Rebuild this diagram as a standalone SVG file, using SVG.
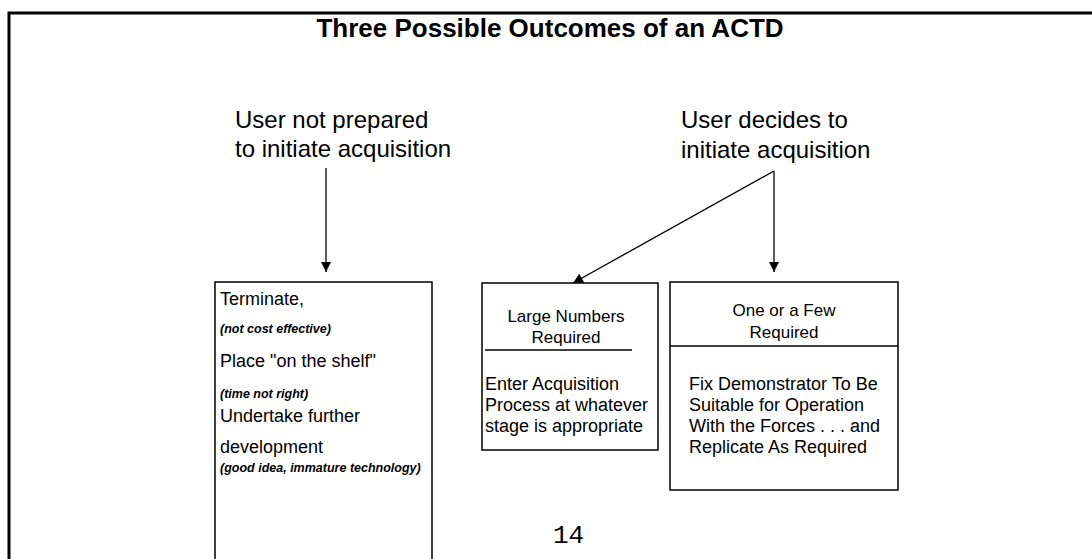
<svg xmlns="http://www.w3.org/2000/svg" width="1092" height="559" viewBox="0 0 1092 559">
<defs>
<style>
text{font-family:"Liberation Sans",Arial,sans-serif;fill:#000}
.title{font-size:26px;font-weight:bold}
.lbl{font-size:24px}
.body{font-size:18px}
.hdr{font-size:17px}
.note{font-size:12.5px;font-weight:bold;font-style:italic}
.box{fill:#fff;stroke:#000;stroke-width:1.5}
.ln{stroke:#000;stroke-width:1.3;fill:none}
.pg{font-family:"Liberation Mono","Courier New",monospace;font-size:26px}
</style>
<marker id="ahv" viewBox="0 0 10 10" refX="10" refY="5" markerWidth="18" markerHeight="10" markerUnits="userSpaceOnUse" orient="auto"><path d="M0,0 L10,5 L0,10 z" fill="#000"/></marker>
</defs>
<rect width="1092" height="559" fill="#fff"/>
<g id="frame">
<path d="M9,559 V13 H1092" fill="none" stroke="#000" stroke-width="3"/>
</g>
<g id="title"><text class="title" x="550" y="37" text-anchor="middle">Three Possible Outcomes of an ACTD</text></g>
<g id="label-not-prepared">
<text class="lbl" x="235" y="128">User not prepared</text>
<text class="lbl" x="235" y="157">to initiate acquisition</text>
</g>
<g id="label-decides">
<text class="lbl" x="681" y="128">User decides to</text>
<text class="lbl" x="681" y="158">initiate acquisition</text>
</g>
<g id="connectors">
<line class="ln" x1="326" y1="168" x2="326" y2="272" marker-end="url(#ahv)"/>
<line class="ln" x1="774" y1="171" x2="774" y2="272" marker-end="url(#ahv)"/>
<line class="ln" x1="774" y1="171" x2="573" y2="283" marker-end="url(#ahv)"/>
</g>
<g id="box-left">
<path class="box" d="M215,560 V282 H432 V560"/>
<text class="body" x="220" y="305">Terminate,</text>
<text class="note" x="220" y="333">(not cost effective)</text>
<text class="body" x="220" y="367">Place "on the shelf"</text>
<text class="note" x="220" y="398">(time not right)</text>
<text class="body" x="220" y="422">Undertake further</text>
<text class="body" x="220" y="453">development</text>
<text class="note" x="220" y="472">(good idea, immature technology)</text>
</g>
<g id="box-middle">
<rect class="box" x="482" y="283" width="176" height="167"/>
<text class="hdr" x="566" y="322" text-anchor="middle">Large Numbers</text>
<text class="hdr" x="566" y="343" text-anchor="middle">Required</text>
<line class="ln" x1="485" y1="350" x2="632" y2="350"/>
<text class="body" x="485" y="390">Enter Acquisition</text>
<text class="body" x="485" y="411">Process at whatever</text>
<text class="body" x="485" y="432">stage is appropriate</text>
</g>
<g id="box-right">
<rect class="box" x="670" y="282" width="228" height="208"/>
<text class="hdr" x="784" y="316" text-anchor="middle">One or a Few</text>
<text class="hdr" x="784" y="338" text-anchor="middle">Required</text>
<line class="ln" x1="670" y1="346" x2="898" y2="346"/>
<text class="body" x="689" y="390">Fix Demonstrator To Be</text>
<text class="body" x="689" y="411">Suitable for Operation</text>
<text class="body" x="689" y="432">With the Forces . . . and</text>
<text class="body" x="689" y="453">Replicate As Required</text>
</g>
<g id="page-number"><text class="pg" x="553" y="543">14</text></g>
</svg>
